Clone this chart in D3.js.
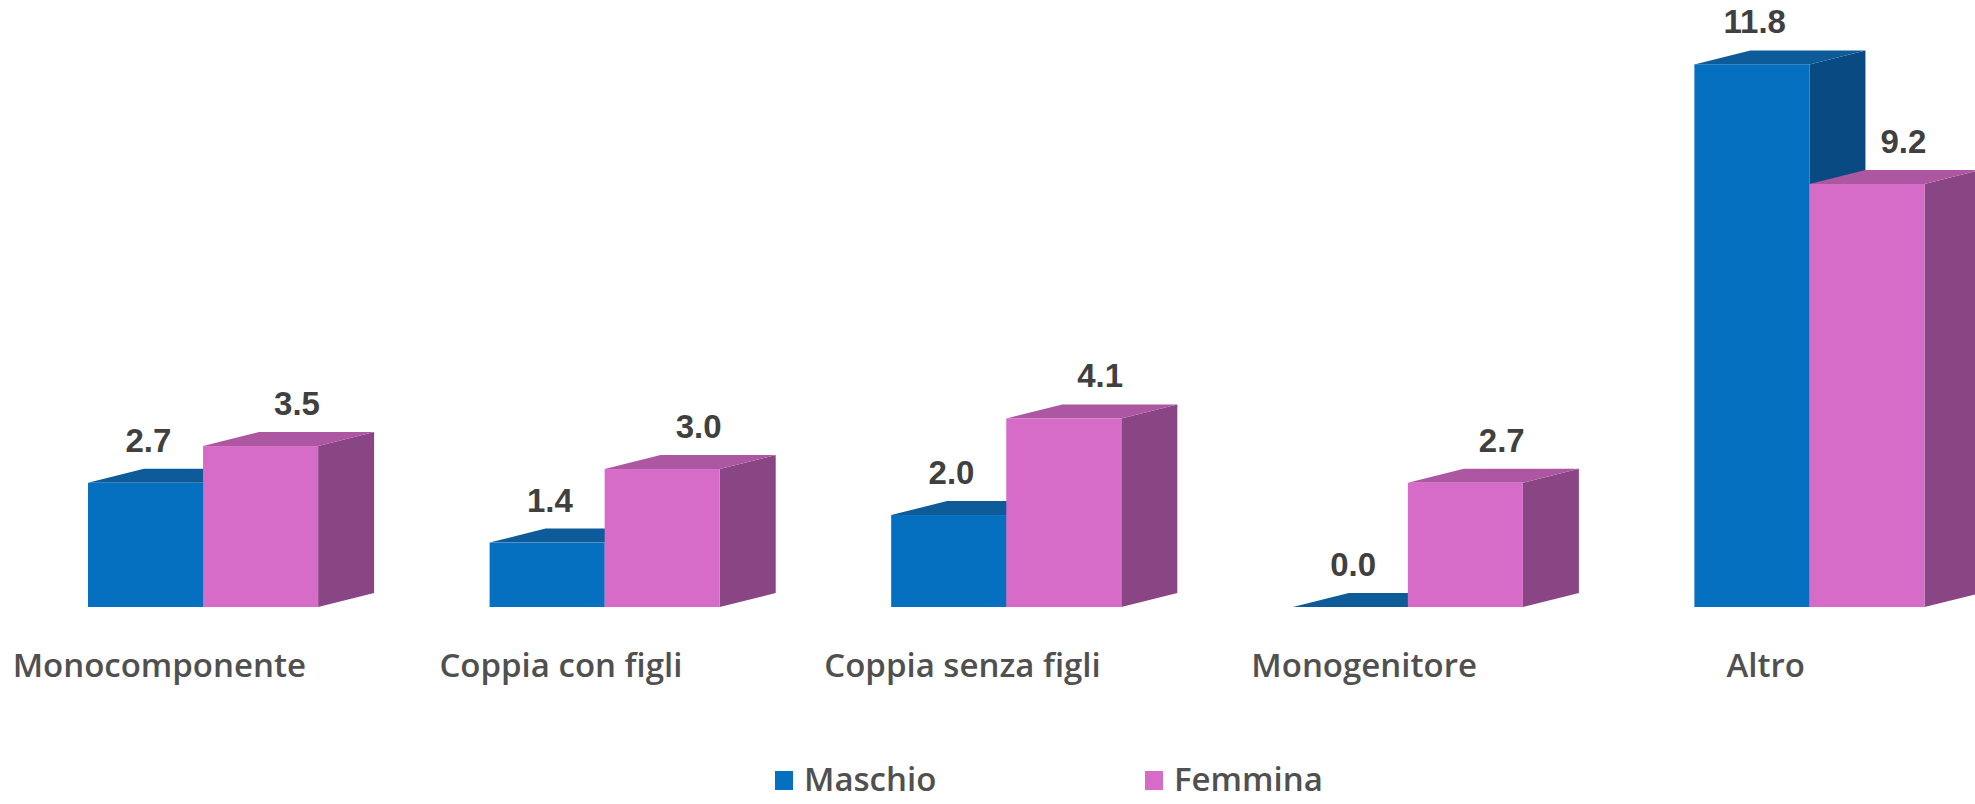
<!DOCTYPE html>
<html>
<head>
<meta charset="utf-8">
<script src="https://cdn.jsdelivr.net/npm/d3@7"></script>
<style>
    body { margin: 0; background: #fff; }
    svg { display: block; }
</style>
</head>
<body>
<svg id="chart" width="1975" height="804"></svg>
<script>
const categories = ["Monocomponente", "Coppia con figli", "Coppia senza figli", "Monogenitore", "Altro"];
const seriesNames = ["Maschio", "Femmina"];
const maschio = [2.7, 1.4, 2.0, 0.0, 11.8];
const femmina = [3.5, 3.0, 4.1, 2.7, 9.2];

const colors = {
    Maschio: {front: "#0570c0", top: "#0d5b99", side: "#0a4a82"},
    Femmina: {front: "#d66cc8", top: "#ad56a2", side: "#8a4684"}
};

const svg = d3.select("#chart");
const baseY = 607;
const depthX = 56, depthY = -14;

let x0 = d3.scaleBand().domain(categories).range([88, 1924.5]).paddingInner(0.427).paddingOuter(0);
let x1 = d3.scaleBand().domain(seriesNames).range([0, x0.bandwidth()]).padding(0);
let y = d3.scaleLinear().domain([0, 13.2]).range([baseY, 0]);

let rows = categories.map((c, i) => {
    return {cat: c, values: [maschio[i], femmina[i]]};
});

let bars = [];
rows.forEach((r) => {
    seriesNames.forEach((s, j) => {
        bars.push({cat: r.cat, series: s, value: r.values[j], idx: j});
    });
});

const chart = svg.append("g");

const groups = chart.selectAll("g.bar")
    .data(bars)
    .enter()
    .append("g")
    .attr("class", "bar");

// side face
groups.append("path")
    .attr("fill", (d) => colors[d.series].side)
    .attr("d", (d) => {
        let xr = x0(d.cat) + x1(d.series) + x1.bandwidth();
        let yt = y(d.value);
        return "M" + xr + "," + yt + "L" + (xr + depthX) + "," + (yt + depthY) +
            "L" + (xr + depthX) + "," + (baseY + depthY) + "L" + xr + "," + baseY + "Z";
    });

// top face
groups.append("path")
    .attr("fill", (d) => colors[d.series].top)
    .attr("d", (d) => {
        let xl = x0(d.cat) + x1(d.series);
        let xr = xl + x1.bandwidth();
        let yt = y(d.value);
        return "M" + xl + "," + yt + "L" + (xl + depthX) + "," + (yt + depthY) +
            "L" + (xr + depthX) + "," + (yt + depthY) + "L" + xr + "," + yt + "Z";
    });

// front face
groups.append("rect")
    .attr("x", (d) => x0(d.cat) + x1(d.series))
    .attr("y", (d) => y(d.value))
    .attr("width", x1.bandwidth())
    .attr("height", (d) => baseY - y(d.value))
    .attr("fill", (d) => colors[d.series].front);

// value labels
chart.selectAll("text.value")
    .data(bars)
    .enter()
    .append("text")
    .attr("class", "value")
    .attr("x", (d) => {
        let cx = x0(d.cat) + x1(d.series) + x1.bandwidth() / 2;
        return cx + (d.idx === 1 ? depthX * 0.65 : depthX * 0.05);
    })
    .attr("y", (d) => y(d.value) + depthY - 17)
    .attr("text-anchor", "middle")
    .attr("font-family", "'Liberation Sans', Arial, sans-serif")
    .attr("font-weight", "bold")
    .attr("font-size", 33)
    .attr("fill", "#404040")
    .text((d) => d.value.toFixed(1));

// category labels
chart.selectAll("text.cat")
    .data(categories)
    .enter()
    .append("text")
    .attr("class", "cat")
    .attr("x", (d) => x0(d) + x0.bandwidth() * 0.31)
    .attr("y", 677)
    .attr("text-anchor", "middle")
    .attr("font-family", "'Open Sans', sans-serif")
    .attr("font-weight", 600)
    .attr("font-size", 33)
    .attr("fill", "#505050")
    .text((d) => d);

// legend
const legend = svg.append("g").attr("transform", "translate(775, 771)");
const items = legend.selectAll("g")
    .data(seriesNames)
    .enter()
    .append("g")
    .attr("transform", (d, i) => "translate(" + (i * 370) + ",0)");
items.append("rect")
    .attr("width", 18)
    .attr("height", 19)
    .attr("fill", (d) => colors[d].front);
items.append("text")
    .attr("x", 29)
    .attr("y", 20)
    .attr("font-family", "'Open Sans', sans-serif")
    .attr("font-weight", 600)
    .attr("font-size", 33)
    .attr("fill", "#505050")
    .text((d) => d);
</script>
</body>
</html>
